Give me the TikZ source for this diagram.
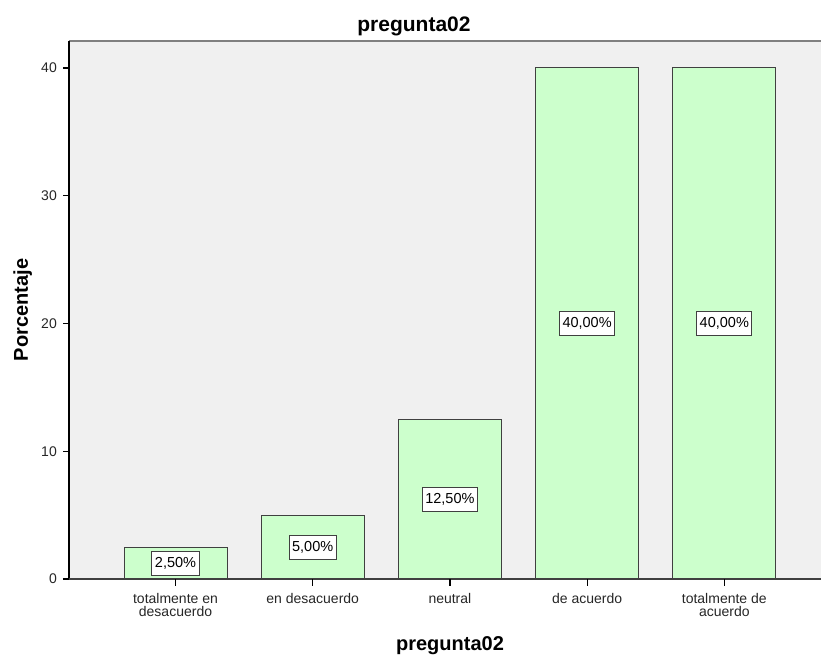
\documentclass[tikz,border=0pt]{standalone}
\usepackage{fontspec}
\setmainfont{Liberation Sans}
\usepackage{xcolor}
\definecolor{panelgray}{HTML}{F0F0F0}
\definecolor{barfill}{HTML}{CCFFCC}
\definecolor{barline}{HTML}{404040}
\definecolor{frameline}{HTML}{808080}
\tikzset{
  bar/.style={fill=barfill, draw=barline, line width=1pt},
  pct/.style={draw=barline, fill=white, line width=0.9pt, inner xsep=3pt, inner ysep=0pt,
    minimum height=24pt, font=\fontsize{14.5}{14.5}\selectfont},
  ticklab/.style={inner sep=0pt, font=\fontsize{14}{14}\selectfont, text=black!85},
  axtitle/.style={font=\bfseries\fontsize{20}{20}\selectfont}
}

\begin{document}
\begin{tikzpicture}[x=1pt,y=1pt]

\useasboundingbox (-69,-77) rectangle (752,579);
\fill[panelgray] (0,0) rectangle (752,538);

\foreach \x/\v/\p [count=\i] in {106.5/2.5/{2,50\%},243.7/5/{5,00\%},380.9/12.5/{12,50\%},518.1/40/{40,00\%},655.3/40/{40,00\%}}
{
\draw[bar] (\x-51.5,0) rectangle (\x+51.5,\v*12.775);
\node[pct] (lab\i) at (\x,\v*6.3875) {\p};
}

\draw[frameline, line width=2pt] (0,538) -- (752,538);
\draw[black, line width=1.3pt] (0,538) -- (0,0);
\draw[barline, line width=1.3pt] (-6,0) -- (752,0);

\foreach \y in {0,10,20,30,40}
{
\draw[line width=1.2pt] (0,\y*12.775) -- (-6,\y*12.775);
\node[ticklab, anchor=east] (ytick\y) at (-12,\y*12.775) {\y};
}

\foreach \x/\c [count=\i] in {106.5/{totalmente en\\desacuerdo},243.7/{en desacuerdo},380.9/{neutral},518.1/{de acuerdo},655.3/{totalmente de\\acuerdo}}
{
\draw[line width=1.2pt] (\x,0) -- (\x,-7);
\node[ticklab, anchor=north, align=center, font=\fontsize{14}{12.7}\selectfont] (cat\i) at (\x,-14) {\c};
}

\node[axtitle, anchor=base, font=\bfseries\fontsize{21}{21}\selectfont] (title) at (345,547.3) {pregunta02};
\node[axtitle, anchor=base] (xtitle) at (381,-71.7) {pregunta02};
\node[axtitle, anchor=base, rotate=90] (ytitle) at (-41,269) {Porcentaje};

\end{tikzpicture}
\end{document}
